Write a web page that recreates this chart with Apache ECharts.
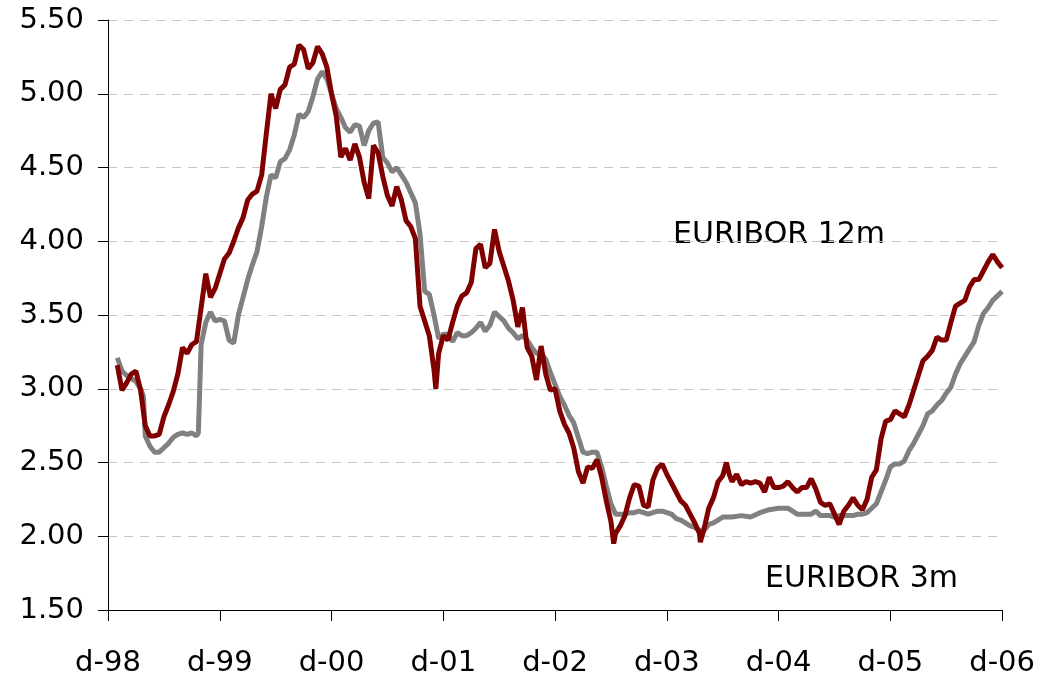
<!DOCTYPE html>
<html>
<head>
<meta charset="utf-8">
<script src="https://cdn.jsdelivr.net/npm/echarts@6/dist/echarts.min.js"></script>
<style>
  html, body { margin: 0; padding: 0; background: #fff; }
  #chart { width: 1038px; height: 682px; }
</style>
</head>
<body>
<div id="chart"></div>
<script>
// x = months after 1 Dec 1998, y = rate in %
const yearLabels = ['d-98', 'd-99', 'd-00', 'd-01', 'd-02', 'd-03', 'd-04', 'd-05', 'd-06'];

const euribor3m = [
  [1,3.21],[1.5,3.12],[2,3.09],[2.5,3.07],[3,3.05],[3.5,3.00],[3.8,2.95],[4,2.68],[4.5,2.61],[5,2.57],
  [5.5,2.57],[6,2.60],[6.5,2.63],[7,2.67],[7.5,2.69],[8,2.70],[8.5,2.69],[9,2.70],[9.5,2.68],[9.7,2.70],
  [10,3.30],[10.5,3.45],[11,3.52],[11.5,3.46],[12,3.47],[12.5,3.46],[13,3.33],[13.5,3.31],[14,3.50],[14.5,3.62],
  [15,3.74],[15.5,3.84],[16,3.93],[16.5,4.10],[17,4.30],[17.5,4.45],[18,4.43],[18.5,4.54],[19,4.56],[19.5,4.62],
  [20,4.72],[20.5,4.86],[21,4.84],[21.5,4.88],[22,4.98],[22.5,5.10],[23,5.15],[23.5,5.10],[24,5.00],[24.5,4.90],
  [25,4.84],[25.5,4.77],[26,4.74],[26.5,4.79],[27,4.78],[27.5,4.65],[28,4.75],[28.5,4.80],[29,4.81],[29.5,4.57],
  [30,4.53],[30.5,4.47],[31,4.50],[31.5,4.45],[32,4.40],[32.5,4.33],[33,4.26],[33.5,4.05],[34,3.66],[34.5,3.64],
  [35,3.50],[35.5,3.34],[36,3.37],[36.5,3.37],[37,3.32],[37.5,3.38],[38,3.36],[38.5,3.36],[39,3.38],[39.5,3.41],
  [40,3.45],[40.5,3.39],[41,3.43],[41.5,3.52],[42,3.49],[42.5,3.46],[43,3.41],[43.5,3.38],[44,3.34],[44.5,3.36],
  [45,3.33],[45.5,3.28],[46,3.24],[46.5,3.24],[47,3.20],[47.5,3.11],[48,3.03],[48.5,2.95],[49,2.89],[49.5,2.82],
  [50,2.77],[50.5,2.67],[51,2.57],[51.5,2.56],[52,2.57],[52.5,2.57],[53,2.47],[53.5,2.34],[54,2.22],[54.5,2.15],
  [55,2.15],[55.5,2.15],[56,2.16],[56.5,2.16],[57,2.17],[57.5,2.16],[58,2.15],[58.5,2.16],[59,2.17],[59.5,2.17],
  [60,2.16],[60.5,2.15],[61,2.12],[61.5,2.11],[62,2.09],[62.5,2.07],[63,2.06],[63.5,2.04],[64,2.04],[64.5,2.08],
  [65,2.09],[65.5,2.11],[66,2.13],[67,2.13],[68,2.14],[69,2.13],[70,2.16],[71,2.18],[72,2.19],[73,2.19],
  [73.5,2.17],[74,2.15],[74.5,2.15],[75,2.15],[75.5,2.15],[76,2.17],[76.5,2.14],[77,2.14],[77.5,2.14],[78,2.13],
  [78.5,2.14],[79,2.14],[79.5,2.14],[80,2.14],[80.5,2.15],[81,2.15],[81.5,2.16],[82,2.19],[82.5,2.22],[83,2.30],
  [83.5,2.38],[84,2.47],[84.5,2.49],[85,2.49],[85.5,2.51],[86,2.58],[86.5,2.63],[87,2.69],[87.5,2.75],[88,2.83],
  [88.5,2.85],[89,2.89],[89.5,2.92],[90,2.97],[90.5,3.01],[91,3.10],[91.5,3.17],[92,3.22],[92.5,3.27],[93,3.32],
  [93.5,3.43],[94,3.51],[94.5,3.55],[95,3.60],[95.5,3.63],[96,3.66]
];

const euribor12m = [
  [1,3.16],[1.5,2.99],[2,3.04],[2.5,3.10],[3,3.12],[3.5,2.99],[4,2.75],[4.5,2.68],[5,2.68],[5.5,2.69],
  [6,2.81],[6.5,2.89],[7,2.98],[7.5,3.10],[8,3.28],[8.5,3.24],[9,3.30],[9.5,3.32],[10,3.55],[10.5,3.78],
  [11,3.62],[11.5,3.68],[12,3.78],[12.5,3.88],[13,3.92],[13.5,4.00],[14,4.09],[14.5,4.16],[15,4.28],[15.5,4.32],
  [16,4.34],[16.5,4.45],[17,4.73],[17.5,5.00],[18,4.90],[18.5,5.03],[19,5.06],[19.5,5.18],[20,5.20],[20.5,5.33],
  [21,5.30],[21.5,5.17],[22,5.21],[22.5,5.32],[23,5.27],[23.5,5.18],[24,5.00],[24.5,4.85],[25,4.57],[25.5,4.63],
  [26,4.55],[26.5,4.66],[27,4.57],[27.5,4.40],[28,4.29],[28.5,4.65],[29,4.60],[29.5,4.44],[30,4.31],[30.5,4.24],
  [31,4.37],[31.5,4.28],[32,4.14],[32.5,4.10],[33,4.02],[33.5,3.56],[34,3.46],[34.5,3.36],[35,3.13],[35.2,3.00],
  [35.5,3.24],[36,3.36],[36.5,3.33],[37,3.45],[37.5,3.56],[38,3.63],[38.5,3.65],[39,3.72],[39.5,3.95],[40,3.98],
  [40.5,3.82],[41,3.85],[41.5,4.08],[42,3.93],[42.5,3.83],[43,3.73],[43.5,3.60],[44,3.42],[44.5,3.55],[45,3.28],
  [45.5,3.22],[46,3.06],[46.5,3.29],[47,3.10],[47.5,2.99],[48,3.00],[48.5,2.85],[49,2.76],[49.5,2.70],[50,2.60],
  [50.5,2.44],[51,2.36],[51.5,2.47],[52,2.46],[52.5,2.52],[53,2.40],[53.5,2.24],[54,2.10],[54.3,1.95],[54.5,2.02],
  [55,2.07],[55.5,2.14],[56,2.26],[56.5,2.35],[57,2.34],[57.5,2.21],[58,2.20],[58.5,2.38],[59,2.46],[59.5,2.49],
  [60,2.42],[60.5,2.36],[61,2.30],[61.5,2.24],[62,2.21],[62.5,2.15],[63,2.09],[63.5,2.02],[63.6,1.96],[64,2.05],
  [64.5,2.19],[65,2.26],[65.5,2.37],[66,2.41],[66.4,2.50],[66.7,2.42],[67,2.37],[67.5,2.42],[68,2.35],[68.5,2.37],
  [69,2.36],[69.5,2.37],[70,2.36],[70.5,2.30],[71,2.40],[71.5,2.33],[72,2.33],[72.5,2.34],[73,2.37],[73.5,2.33],
  [74,2.30],[74.5,2.33],[75,2.33],[75.5,2.39],[76,2.32],[76.5,2.23],[77,2.21],[77.5,2.22],[78,2.15],[78.5,2.08],
  [79,2.17],[79.5,2.21],[80,2.26],[80.5,2.21],[81,2.18],[81.5,2.25],[82,2.40],[82.5,2.45],[83,2.66],[83.5,2.78],
  [84,2.79],[84.5,2.85],[85,2.83],[85.5,2.81],[86,2.89],[86.5,2.99],[87,3.09],[87.5,3.19],[88,3.22],[88.5,3.26],
  [89,3.35],[89.5,3.33],[90,3.33],[90.5,3.45],[91,3.56],[91.5,3.58],[92,3.60],[92.5,3.69],[93,3.74],[93.5,3.74],
  [94,3.80],[94.5,3.86],[95,3.91],[95.5,3.86],[96,3.82]
];

const FONT = 'DejaVu Sans';
const chart = echarts.init(document.getElementById('chart'));

chart.setOption({
  animation: false,
  backgroundColor: '#fff',
  grid: { left: 108, right: 31, top: 20, bottom: 72 },
  xAxis: {
    type: 'value',
    min: 0,
    max: 96,
    interval: 12,
    axisLine: { lineStyle: { color: '#000', width: 1 } },
    axisTick: { show: true, length: 11, lineStyle: { color: '#000' } },
    axisLabel: {
      margin: 39,
      color: '#000',
      fontFamily: FONT,
      fontSize: 29,
      formatter: (v) => yearLabels[Math.round(v / 12)]
    },
    splitLine: { show: false }
  },
  yAxis: {
    type: 'value',
    min: 1.5,
    max: 5.5,
    interval: 0.5,
    axisLine: { show: true, lineStyle: { color: '#000', width: 1 } },
    axisTick: { show: true, length: 10, lineStyle: { color: '#000' } },
    axisLabel: {
      margin: 24,
      color: '#000',
      fontFamily: FONT,
      fontSize: 29,
      formatter: (v) => v.toFixed(2)
    },
    splitLine: { show: true, lineStyle: { color: '#c4c4c4', type: [9, 7], width: 1 } }
  },
  series: [
    {
      name: 'EURIBOR 3m',
      type: 'line',
      data: euribor3m,
      showSymbol: false,
      lineStyle: { color: '#808080', width: 5 },
      z: 2
    },
    {
      name: 'EURIBOR 12m',
      type: 'line',
      data: euribor12m,
      showSymbol: false,
      lineStyle: { color: '#800000', width: 5 },
      z: 3
    }
  ],
  graphic: [
    {
      type: 'text', left: 673, top: 220,
      style: { text: 'EURIBOR 12m', fill: '#000', font: '30px "DejaVu Sans"' }
    },
    {
      type: 'text', left: 765, top: 564,
      style: { text: 'EURIBOR 3m', fill: '#000', font: '30px "DejaVu Sans"' }
    }
  ]
});
</script>
</body>
</html>
